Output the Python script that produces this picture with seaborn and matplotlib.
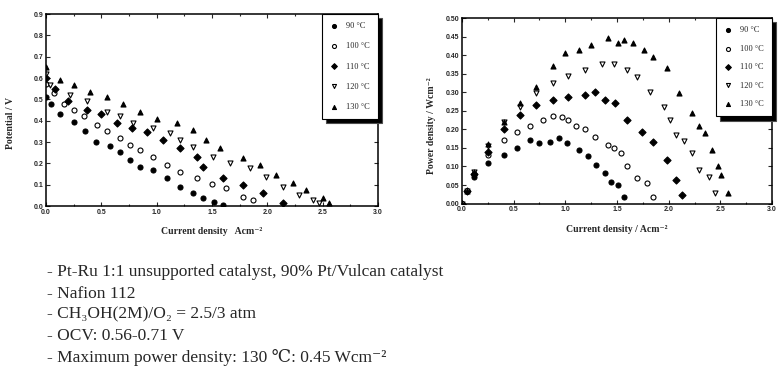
"""Polarization and power density curves of a Pt-Ru DMFC at several temperatures."""

import matplotlib

matplotlib.use("Agg")

import matplotlib.pyplot as plt
import pandas as pd
import seaborn as sns

temps = ["90 °C", "100 °C", "110 °C", "120 °C", "130 °C"]

# polarization curves: current density (A/cm2) -> potential (V)
pol_i_90 = [0.0, 0.05, 0.13, 0.25, 0.35, 0.45, 0.58, 0.67, 0.76, 0.85, 0.97, 1.09, 1.21, 1.33, 1.42, 1.52, 1.60]
pol_v_90 = [0.51, 0.48, 0.43, 0.395, 0.35, 0.30, 0.28, 0.254, 0.215, 0.184, 0.169, 0.13, 0.09, 0.06, 0.036, 0.02, 0.005]
pol_i_100 = [0.0, 0.07, 0.16, 0.25, 0.34, 0.46, 0.55, 0.67, 0.76, 0.85, 0.97, 1.09, 1.21, 1.36, 1.50, 1.63, 1.78, 1.87]
pol_v_100 = [0.57, 0.53, 0.48, 0.45, 0.42, 0.38, 0.35, 0.317, 0.286, 0.262, 0.231, 0.192, 0.161, 0.13, 0.105, 0.083, 0.044, 0.028]
pol_i_110 = [0.0, 0.08, 0.20, 0.37, 0.50, 0.64, 0.78, 0.91, 1.06, 1.21, 1.36, 1.42, 1.60, 1.78, 1.96, 2.14]
pol_v_110 = [0.60, 0.55, 0.49, 0.45, 0.43, 0.387, 0.365, 0.348, 0.31, 0.27, 0.231, 0.184, 0.13, 0.098, 0.06, 0.013]
pol_i_120 = [0.0, 0.04, 0.22, 0.37, 0.55, 0.67, 0.79, 0.97, 1.12, 1.21, 1.33, 1.51, 1.66, 1.84, 1.99, 2.14, 2.29, 2.41, 2.47]
pol_v_120 = [0.62, 0.567, 0.52, 0.49, 0.44, 0.42, 0.387, 0.364, 0.34, 0.31, 0.278, 0.231, 0.20, 0.177, 0.137, 0.09, 0.05, 0.028, 0.013]
pol_i_130 = [0.0, 0.13, 0.25, 0.40, 0.55, 0.70, 0.85, 1.00, 1.18, 1.33, 1.45, 1.57, 1.78, 1.93, 2.08, 2.23, 2.35, 2.50, 2.56]
pol_v_130 = [0.65, 0.59, 0.567, 0.535, 0.51, 0.48, 0.44, 0.41, 0.387, 0.356, 0.31, 0.27, 0.223, 0.192, 0.145, 0.106, 0.075, 0.036, 0.013]

# power density curves: current density (A/cm2) -> power density (W/cm2)
pow_i_90 = [0.0, 0.05, 0.12, 0.25, 0.41, 0.53, 0.66, 0.75, 0.85, 0.94, 1.02, 1.13, 1.22, 1.30, 1.38, 1.44, 1.51, 1.57]
pow_w_90 = [0.0, 0.035, 0.073, 0.109, 0.131, 0.149, 0.172, 0.163, 0.167, 0.176, 0.163, 0.145, 0.127, 0.105, 0.082, 0.059, 0.05, 0.019]
pow_i_100 = [0.0, 0.05, 0.12, 0.25, 0.41, 0.53, 0.66, 0.78, 0.88, 0.97, 1.03, 1.10, 1.19, 1.29, 1.41, 1.47, 1.54, 1.60, 1.69, 1.79, 1.85]
pow_w_100 = [0.0, 0.035, 0.08, 0.13, 0.172, 0.194, 0.209, 0.225, 0.235, 0.232, 0.225, 0.208, 0.20, 0.18, 0.158, 0.15, 0.136, 0.10, 0.068, 0.055, 0.019]
pow_i_110 = [0.0, 0.05, 0.12, 0.25, 0.41, 0.56, 0.72, 0.88, 1.03, 1.19, 1.29, 1.38, 1.48, 1.60, 1.74, 1.85, 1.98, 2.07, 2.13]
pow_w_110 = [0.0, 0.035, 0.08, 0.14, 0.20, 0.24, 0.266, 0.28, 0.288, 0.293, 0.302, 0.28, 0.272, 0.225, 0.194, 0.167, 0.118, 0.064, 0.023]
pow_i_120 = [0.0, 0.05, 0.12, 0.25, 0.41, 0.56, 0.72, 0.88, 1.03, 1.19, 1.35, 1.47, 1.60, 1.69, 1.82, 1.95, 2.01, 2.07, 2.15, 2.23, 2.29, 2.39, 2.45]
pow_w_120 = [0.0, 0.035, 0.085, 0.155, 0.22, 0.26, 0.297, 0.324, 0.345, 0.36, 0.375, 0.375, 0.36, 0.34, 0.30, 0.26, 0.225, 0.185, 0.17, 0.136, 0.091, 0.073, 0.028]
pow_i_130 = [0.0, 0.05, 0.12, 0.25, 0.41, 0.56, 0.72, 0.88, 1.00, 1.13, 1.25, 1.41, 1.51, 1.57, 1.65, 1.76, 1.85, 1.98, 2.10, 2.23, 2.29, 2.35, 2.42, 2.48, 2.51, 2.57]
pow_w_130 = [0.0, 0.035, 0.085, 0.16, 0.22, 0.27, 0.315, 0.37, 0.405, 0.414, 0.428, 0.446, 0.432, 0.441, 0.432, 0.414, 0.396, 0.365, 0.297, 0.243, 0.208, 0.19, 0.145, 0.10, 0.077, 0.028]

notes = [
    "- Pt-Ru 1:1 unsupported catalyst, 90% Pt/Vulcan catalyst",
    "- Nafion 112",
    "- CH\u2083OH(2M)/O\u2082 = 2.5/3 atm",
    "- OCV: 0.56-0.71 V",
    "- Maximum power density: 130 \u2103: 0.45 Wcm\u207b\u00b2",
]

pol_df = pd.concat([
    pd.DataFrame({"i": i, "v": v, "T": t})
    for t, i, v in zip(temps, [pol_i_90, pol_i_100, pol_i_110, pol_i_120, pol_i_130],
                       [pol_v_90, pol_v_100, pol_v_110, pol_v_120, pol_v_130])
])
pow_df = pd.concat([
    pd.DataFrame({"i": i, "w": w, "T": t})
    for t, i, w in zip(temps, [pow_i_90, pow_i_100, pow_i_110, pow_i_120, pow_i_130],
                       [pow_w_90, pow_w_100, pow_w_110, pow_w_120, pow_w_130])
])

marker_style = {
    "90 °C": ("o", "black"),
    "100 °C": ("o", "white"),
    "110 °C": ("D", "black"),
    "120 °C": ("v", "white"),
    "130 °C": ("^", "black"),
}

sns.set_theme(style="ticks")
plt.rcParams["font.family"] = ["Liberation Serif", "DejaVu Serif"]

fig = plt.figure(figsize=(7.83, 3.69), dpi=100)
ax1 = fig.add_axes([0.0587, 0.4417, 0.4241, 0.5203])
ax2 = fig.add_axes([0.590, 0.4482, 0.396, 0.503])

tick_font = {"family": "Liberation Sans", "weight": "bold", "size": 5}


def draw_panel(ax, df, ycol, ylim, yticks, ylabel, xlabel, ylabel_pos, legend_spacing):
    for t in temps:
        marker, face = marker_style[t]
        sns.scatterplot(
            data=df[df["T"] == t], x="i", y=ycol, ax=ax, marker=marker,
            s=13, facecolor=face, edgecolor="black", linewidth=0.8, label=t,
        )
    ax.set_xlim(0, 3.0)
    ax.set_ylim(*ylim)
    ax.set_xticks([0.0, 0.5, 1.0, 1.5, 2.0, 2.5, 3.0])
    ax.set_xticks([0.25, 0.75, 1.25, 1.75, 2.25, 2.75], minor=True)
    ax.set_yticks(yticks)
    ax.tick_params(which="both", direction="in", top=True, right=True, width=0.8)
    ax.tick_params(which="major", length=3, pad=2)
    ax.tick_params(which="minor", length=1.5)
    for lbl in ax.get_xticklabels() + ax.get_yticklabels():
        lbl.set_fontproperties(tick_font)
    for spine in ax.spines.values():
        spine.set_linewidth(1.1)
        spine.set_color("black")
    ax.set_xlabel(xlabel, fontsize=7, fontweight="bold", labelpad=8)
    ax.set_ylabel(ylabel, fontsize=7, fontweight="bold")
    ax.yaxis.set_label_coords(*ylabel_pos)
    leg = ax.legend(
        loc="upper right", borderaxespad=0, frameon=True, fancybox=False,
        edgecolor="black", framealpha=1, fontsize=6, labelspacing=legend_spacing,
        borderpad=1.0, handletextpad=0.9, handlelength=1.0, markerscale=0.8,
        shadow={"ox": 3, "oy": -3, "facecolor": "black", "alpha": 1},
    )
    leg.get_frame().set_linewidth(0.8)


draw_panel(ax1, pol_df, "v", (0, 0.9), [0.0, 0.1, 0.2, 0.3, 0.4, 0.5, 0.6, 0.7, 0.8, 0.9],
           "Potential / V", "Current density   Acm\u207b\u00b2", (-0.093, 0.43), 1.45)
draw_panel(ax2, pow_df, "w", (0, 0.5),
           [0.0, 0.05, 0.10, 0.15, 0.20, 0.25, 0.30, 0.35, 0.40, 0.45, 0.50],
           "Power density / Wcm\u207b\u00b2", "Current density / Acm\u207b\u00b2", (-0.085, 0.42), 1.25)
ax2.yaxis.set_major_formatter(matplotlib.ticker.FormatStrFormatter("%.2f"))
for lbl in ax2.get_yticklabels():
    lbl.set_fontproperties(tick_font)

for k, line in enumerate(notes):
    fig.text(0.060, 0.262 - k * 0.0575, line, fontsize=12.5, va="center", ha="left")

fig.savefig("out.png", dpi=100)
plt.close(fig)
